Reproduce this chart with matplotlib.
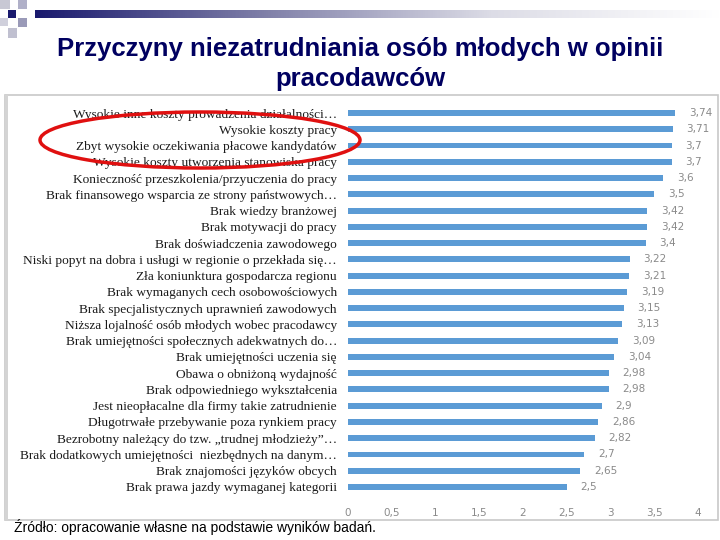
import matplotlib
matplotlib.use("Agg")
import matplotlib.pyplot as plt
import numpy as np
from matplotlib.patches import Rectangle, Ellipse
from matplotlib.colors import LinearSegmentedColormap

categories = [
    "Wysokie inne koszty prowadzenia działalności…",
    "Wysokie koszty pracy",
    "Zbyt wysokie oczekiwania płacowe kandydatów",
    "Wysokie koszty utworzenia stanowiska pracy",
    "Konieczność przeszkolenia/przyuczenia do pracy",
    "Brak finansowego wsparcia ze strony państwowych…",
    "Brak wiedzy branżowej",
    "Brak motywacji do pracy",
    "Brak doświadczenia zawodowego",
    "Niski popyt na dobra i usługi w regionie o przekłada się…",
    "Zła koniunktura gospodarcza regionu",
    "Brak wymaganych cech osobowościowych",
    "Brak specjalistycznych uprawnień zawodowych",
    "Niższa lojalność osób młodych wobec pracodawcy",
    "Brak umiejętności społecznych adekwatnych do…",
    "Brak umiejętności uczenia się",
    "Obawa o obniżoną wydajność",
    "Brak odpowiedniego wykształcenia",
    "Jest nieopłacalne dla firmy takie zatrudnienie",
    "Długotrwałe przebywanie poza rynkiem pracy",
    "Bezrobotny należący do tzw. „trudnej młodzieży”…",
    "Brak dodatkowych umiejętności  niezbędnych na danym…",
    "Brak znajomości języków obcych",
    "Brak prawa jazdy wymaganej kategorii",
]
values = [3.74, 3.71, 3.7, 3.7, 3.6, 3.5, 3.42, 3.42, 3.4, 3.22, 3.21, 3.19,
          3.15, 3.13, 3.09, 3.04, 2.98, 2.98, 2.9, 2.86, 2.82, 2.7, 2.65, 2.5]
xticks = [0, 0.5, 1, 1.5, 2, 2.5, 3, 3.5, 4]
xtick_labels = ["0", "0,5", "1", "1,5", "2", "2,5", "3", "3,5", "4"]
title = "Przyczyny niezatrudniania osób młodych w opinii\npracodawców"
source = "Źródło: opracowanie własne na podstawie wyników badań."

W, H = 720, 540
fig = plt.figure(figsize=(7.2, 5.4), dpi=100)
fig.patch.set_facecolor("white")

def fx(px): return px / W
def fy(py): return 1 - py / H

# chart frame (behind everything)
fig.patches.append(Rectangle((fx(5), fy(520)), (718 - 5) / W, (520 - 95) / H,
                             transform=fig.transFigure, facecolor="white",
                             edgecolor="#c8c8c8", linewidth=1.2, zorder=-5))
fig.patches.append(Rectangle((fx(5), fy(520)), 3 / W, (520 - 95) / H,
                             transform=fig.transFigure, facecolor="#d4d4d4",
                             edgecolor="none", zorder=-4))

# decorative header: gradient bar
gax = fig.add_axes([fx(35), fy(18), fx(720 - 35), (18 - 10) / H])
grad = np.linspace(0, 1, 256)[None, :]
cmap = LinearSegmentedColormap.from_list("g", ["#1a1a6e", "#7f7fa8", "#dcdce6", "#ffffff"])
gax.imshow(grad, aspect="auto", cmap=cmap, extent=[0, 1, 0, 1])
gax.axis("off")
sq = [(8, 10, 8, 8, "#1a1a6e"), (0, 0, 10, 9, "#c8c8d4"), (18, 0, 9, 9, "#b0b0c8"),
      (0, 18, 8, 8, "#d0d0dc"), (18, 18, 9, 9, "#9a9ab8"), (8, 28, 9, 10, "#c0c0d0")]
for x, yy, w, h, c in sq:
    fig.patches.append(Rectangle((fx(x), fy(yy + h)), w / W, h / H, transform=fig.transFigure,
                                 facecolor=c, edgecolor="none"))

fig.text(0.5, fy(64), title, ha="center", va="center", fontsize=18.5, fontweight="bold",
         color="#000060", family=["Liberation Sans", "DejaVu Sans"], linespacing=1.35)

ax = fig.add_axes([fx(348), fy(495.1), (698 - 348) / W, (495.1 - 104.9) / H])
y = np.arange(len(values))
ax.barh(y, values, height=0.36, color="#5b9bd5")
ax.set_ylim(len(values) - 0.5, -0.5)
ax.set_xlim(0, 4)
ax.set_xticks(xticks)
ax.set_xticklabels(xtick_labels, fontsize=7.5, color="#8a8a8a")
ax.set_yticks(y)
ax.set_yticklabels(categories, fontsize=9.6, family=["Liberation Serif", "DejaVu Serif"],
                   color="#1a1a1a")
ax.tick_params(axis="both", length=0)
ax.tick_params(axis="y", pad=8)
ax.tick_params(axis="x", pad=9)
for s in ax.spines.values():
    s.set_visible(False)
for yi, v in zip(y, values):
    ax.annotate(f"{v:g}".replace(".", ","), (v, yi), xytext=(10, 0), textcoords="offset points",
                va="center", ha="left", fontsize=7.5, color="#8a8a8a")
ax.patch.set_alpha(0)

# red ellipse
fig.patches.append(Ellipse((fx(200), fy(140)), 320 / W, 56 / H, transform=fig.transFigure,
                           facecolor="none", edgecolor="#e01010", linewidth=2.5, zorder=10))

fig.text(fx(14), fy(527), source, ha="left", va="center", fontsize=10, color="black",
         family=["Liberation Sans", "DejaVu Sans"])

fig.savefig("out.png", dpi=100)
